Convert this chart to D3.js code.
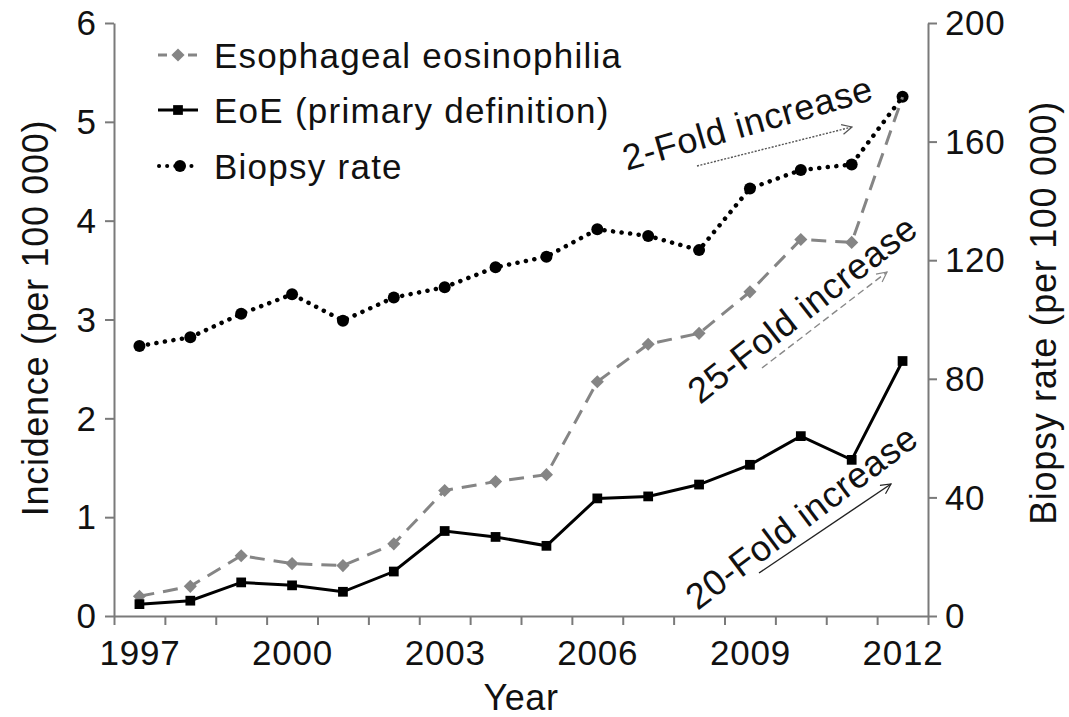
<!DOCTYPE html>
<html>
<head>
<meta charset="utf-8">
<script src="https://cdn.jsdelivr.net/npm/d3@7"></script>
<style>
  html, body { margin: 0; padding: 0; background: #fff; }
  svg { display: block; }
  text { font-family: "Liberation Sans", Arial, sans-serif; fill: #111; }
</style>
</head>
<body>
<svg id="chart" width="1069" height="717"></svg>
<script>
// Annual values, 1997–2012
const years = d3.range(1997, 2013);
const esophagealEosinophilia = [0.20, 0.30, 0.61, 0.53, 0.51, 0.73, 1.27, 1.36, 1.43, 2.37, 2.75, 2.86, 3.28, 3.81, 3.78, 5.25];
const eoePrimary = [0.12, 0.155, 0.34, 0.31, 0.245, 0.45, 0.86, 0.80, 0.71, 1.19, 1.21, 1.33, 1.53, 1.82, 1.58, 2.58];
const biopsyRate = [91.1, 94.0, 101.9, 108.5, 99.6, 107.4, 110.9, 117.6, 121.2, 130.4, 128.2, 123.4, 144.2, 150.4, 152.3, 175.1];

const yearLabels = [1997, 2000, 2003, 2006, 2009, 2012];
const leftTicks = [0, 1, 2, 3, 4, 5, 6];
const rightTicks = [0, 40, 80, 120, 160, 200];
const legendLabels = ["Esophageal eosinophilia", "EoE (primary definition)", "Biopsy rate"];
const annotations = ["2-Fold increase", "25-Fold increase", "20-Fold increase"];

const svg = d3.select("#chart");
const plotLeft = 114, plotRight = 928, plotTop = 23, plotBottom = 616;

const x = d3.scaleLinear().domain([1996.5, 2012.5]).range([plotLeft, plotRight]);
const yL = d3.scaleLinear().domain([0, 6]).range([plotBottom, plotTop]);
const yR = d3.scaleLinear().domain([0, 200]).range([plotBottom, plotTop]);

const axisColor = "#7a7a7a";
const tickFont = 35, titleFont = 36, noteFont = 36;

// Bottom axis: ticks on year boundaries, labels every third year
const gx = svg.append("g").attr("transform", `translate(0,${plotBottom})`)
  .call(d3.axisBottom(x).tickValues(d3.range(1996.5, 2013, 1)).tickSize(9).tickSizeOuter(0).tickFormat(""));
gx.selectAll("path, line").attr("stroke", axisColor).attr("stroke-width", 2);
svg.append("g").selectAll("text").data(yearLabels).join("text")
  .attr("x", d => x(d) + 0.5).attr("y", 665)
  .attr("text-anchor", "middle").attr("font-size", tickFont).attr("letter-spacing", 0.8)
  .text(d => d);

// Left axis
const gl = svg.append("g").attr("transform", `translate(${plotLeft},0)`)
  .call(d3.axisLeft(yL).tickValues(leftTicks).tickSize(9).tickSizeOuter(0).tickFormat(""));
gl.selectAll("path, line").attr("stroke", axisColor).attr("stroke-width", 2);
svg.append("g").selectAll("text").data(leftTicks).join("text")
  .attr("x", 96).attr("y", d => yL(d)).attr("dy", "0.35em")
  .attr("text-anchor", "end").attr("font-size", tickFont)
  .text(d => d);

// Right axis
const gr = svg.append("g").attr("transform", `translate(${plotRight},0)`)
  .call(d3.axisRight(yR).tickValues(rightTicks).tickSize(9).tickSizeOuter(0).tickFormat(""));
gr.selectAll("path, line").attr("stroke", axisColor).attr("stroke-width", 2);
svg.append("g").selectAll("text").data(rightTicks).join("text")
  .attr("x", 945).attr("y", d => yR(d)).attr("dy", "0.35em")
  .attr("text-anchor", "start").attr("font-size", tickFont).attr("letter-spacing", 0.6)
  .text(d => d);

// Axis titles
svg.append("text").attr("transform", "translate(48,318) rotate(-90)")
  .attr("text-anchor", "middle").attr("font-size", titleFont).attr("letter-spacing", 0.7)
  .text("Incidence (per 100 000)");
svg.append("text").attr("transform", "translate(1056,313) rotate(-90)")
  .attr("text-anchor", "middle").attr("font-size", titleFont).attr("letter-spacing", 0.7)
  .text("Biopsy rate (per 100 000)");
svg.append("text").attr("x", 521).attr("y", 710)
  .attr("text-anchor", "middle").attr("font-size", titleFont).attr("letter-spacing", 0.6).text("Year");

// Series
const grey = "#858585";
const lineL = vals => d3.line().x((d, i) => x(years[i])).y(d => yL(d))(vals);
const lineR = vals => d3.line().x((d, i) => x(years[i])).y(d => yR(d))(vals);

const diamond = d3.symbol().type(d3.symbolDiamond2).size(110);
const square = d3.symbol().type(d3.symbolSquare).size(95);

// Biopsy rate (dotted, right axis)
svg.append("path").attr("d", lineR(biopsyRate)).attr("fill", "none")
  .attr("stroke", "#000").attr("stroke-width", 4.5)
  .attr("stroke-dasharray", "0.1 8.5").attr("stroke-linecap", "round");
svg.append("g").selectAll("circle").data(biopsyRate).join("circle")
  .attr("cx", (d, i) => x(years[i])).attr("cy", d => yR(d)).attr("r", 6).attr("fill", "#000");

// Esophageal eosinophilia (dashed grey)
svg.append("path").attr("d", lineL(esophagealEosinophilia)).attr("fill", "none")
  .attr("stroke", grey).attr("stroke-width", 3).attr("stroke-dasharray", "15 9");
svg.append("g").selectAll("path").data(esophagealEosinophilia.slice(0, -1)).join("path")
  .attr("d", diamond).attr("fill", grey)
  .attr("transform", (d, i) => `translate(${x(years[i])},${yL(d)})`);

// EoE primary definition (solid black)
svg.append("path").attr("d", lineL(eoePrimary)).attr("fill", "none")
  .attr("stroke", "#000").attr("stroke-width", 3);
svg.append("g").selectAll("path").data(eoePrimary).join("path")
  .attr("d", square).attr("fill", "#000")
  .attr("transform", (d, i) => `translate(${x(years[i])},${yL(d)})`);

// Legend
const legend = svg.append("g");
const rowY = [55, 110, 166];
legend.append("line").attr("x1", 158).attr("x2", 198).attr("y1", rowY[0]).attr("y2", rowY[0])
  .attr("stroke", grey).attr("stroke-width", 3).attr("stroke-dasharray", "9 6");
legend.append("path").attr("d", diamond).attr("fill", grey).attr("transform", `translate(178,${rowY[0]})`);
legend.append("line").attr("x1", 158).attr("x2", 198).attr("y1", rowY[1]).attr("y2", rowY[1])
  .attr("stroke", "#000").attr("stroke-width", 3);
legend.append("path").attr("d", square).attr("fill", "#000").attr("transform", `translate(178,${rowY[1]})`);
legend.append("line").attr("x1", 159).attr("x2", 199).attr("y1", rowY[2]).attr("y2", rowY[2])
  .attr("stroke", "#000").attr("stroke-width", 4).attr("stroke-dasharray", "0.1 8").attr("stroke-linecap", "round");
legend.append("circle").attr("cx", 180).attr("cy", rowY[2]).attr("r", 6).attr("fill", "#000");
legend.selectAll("text").data(legendLabels).join("text")
  .attr("x", 214).attr("y", (d, i) => rowY[i]).attr("dy", "0.36em")
  .attr("font-size", tickFont).attr("letter-spacing", 1.25).text(d => d);

// Trend annotations: arrow + rotated label
const defs = svg.append("defs");
function marker(id, color) {
  defs.append("marker").attr("id", id).attr("viewBox", "0 0 12 12")
    .attr("refX", 11).attr("refY", 6).attr("markerWidth", 12).attr("markerHeight", 12)
    .attr("markerUnits", "userSpaceOnUse").attr("orient", "auto")
    .append("path").attr("d", "M1,1 L11,6 L1,11").attr("fill", "none")
    .attr("stroke", color).attr("stroke-width", 1.2);
}
marker("arrowDot", "#555");
marker("arrowDash", "#888");
marker("arrowSolid", "#222");

const arrows = [
  { x1: 697, y1: 166, x2: 852, y2: 127, stroke: "#555", dash: "2 1.5", m: "arrowDot" },
  { x1: 762, y1: 368, x2: 887, y2: 272, stroke: "#888", dash: "7 4", m: "arrowDash" },
  { x1: 759, y1: 573, x2: 891, y2: 484, stroke: "#222", dash: null, m: "arrowSolid" }
];
svg.append("g").selectAll("line").data(arrows).join("line")
  .attr("x1", d => d.x1).attr("y1", d => d.y1).attr("x2", d => d.x2).attr("y2", d => d.y2)
  .attr("stroke", d => d.stroke).attr("stroke-width", 1.4)
  .attr("stroke-dasharray", d => d.dash)
  .attr("marker-end", d => `url(#${d.m})`);

const labelPos = [
  { x: 751, y: 135, a: -16 },
  { x: 810, y: 319, a: -38 },
  { x: 809, y: 527, a: -37 }
];
svg.append("g").selectAll("text").data(annotations).join("text")
  .attr("transform", (d, i) => `translate(${labelPos[i].x},${labelPos[i].y}) rotate(${labelPos[i].a})`)
  .attr("text-anchor", "middle").attr("font-size", noteFont).attr("letter-spacing", 0.7)
  .text(d => d);
</script>
</body>
</html>
